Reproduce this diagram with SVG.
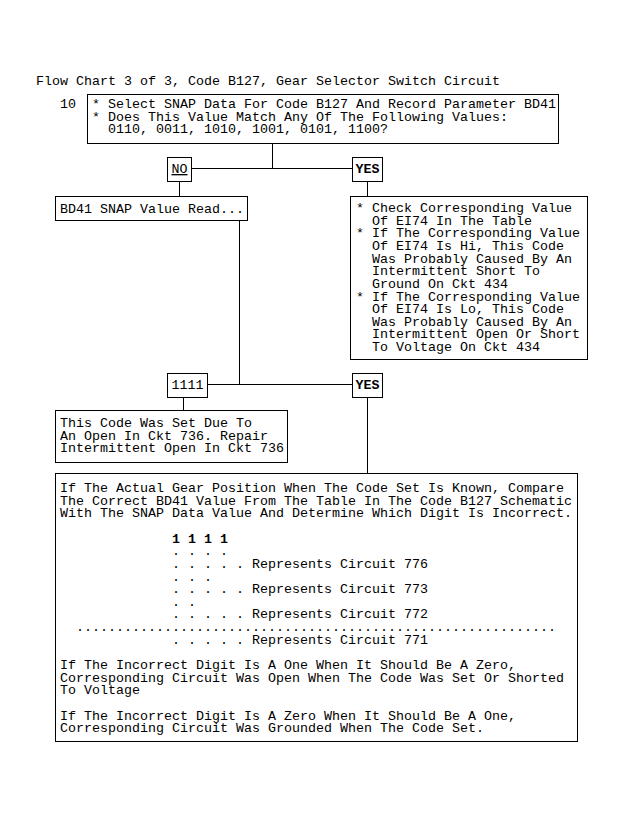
<svg xmlns="http://www.w3.org/2000/svg" width="622" height="817" viewBox="0 0 622 817">
<style>
text{font-family:"Liberation Mono","DejaVu Sans Mono",monospace;font-size:13.33px;fill:#000}
.b{font-weight:bold}
.box{fill:#fff;stroke:#000;stroke-width:1}
.ln{stroke:#000;stroke-width:1;fill:none}
</style>
<rect width="622" height="817" fill="#fff"/>
<text x="36" y="85">Flow Chart 3 of 3, Code B127, Gear Selector Switch Circuit</text>
<g id="connectors">
<path class="ln" d="M272.5 143.5V168.5M191.5 168.5H352.5M179.5 181.5V196.5M367.5 181.5V196.5M239.5 220.5V384.5M207.5 384.5H352.5M183.5 397.5V410.5M367.5 397.5V473.5"/>
</g>
<g id="n10">
<text x="60" y="108">10</text>
<rect class="box" x="87.5" y="94.5" width="471" height="49"/>
<text x="92" y="108">* Select SNAP Data For Code B127 And Record Parameter BD41</text>
<text x="92" y="121">* Does This Value Match Any Of The Following Values:</text>
<text x="108" y="133">0110, 0011, 1010, 1001, 0101, 1100?</text>
</g>
<g id="no1">
<rect class="box" x="167.5" y="157.5" width="24" height="24"/>
<text x="171.5" y="173" text-decoration="underline">NO</text>
</g>
<g id="yes1">
<rect class="box" x="352.5" y="157.5" width="30" height="24"/>
<text class="b" x="355.5" y="173">YES</text>
</g>
<g id="bd41">
<rect class="box" x="55.5" y="196.5" width="192" height="24"/>
<text x="60" y="213">BD41 SNAP Value Read...</text>
</g>
<g id="check">
<rect class="box" x="350.5" y="196.5" width="237" height="163"/>
<text x="356" y="212">* Check Corresponding Value</text>
<text x="372" y="224.6">Of EI74 In The Table</text>
<text x="356" y="237.3">* If The Corresponding Value</text>
<text x="372" y="249.9">Of EI74 Is Hi, This Code</text>
<text x="372" y="262.6">Was Probably Caused By An</text>
<text x="372" y="275.2">Intermittent Short To</text>
<text x="372" y="287.8">Ground On Ckt 434</text>
<text x="356" y="300.5">* If The Corresponding Value</text>
<text x="372" y="313.1">Of EI74 Is Lo, This Code</text>
<text x="372" y="325.8">Was Probably Caused By An</text>
<text x="372" y="338.4">Intermittent Open Or Short</text>
<text x="372" y="351">To Voltage On Ckt 434</text>
</g>
<g id="v1111">
<rect class="box" x="167.5" y="373.5" width="40" height="24"/>
<text x="171.5" y="389">1111</text>
</g>
<g id="yes2">
<rect class="box" x="352.5" y="373.5" width="30" height="24"/>
<text class="b" x="355.5" y="389">YES</text>
</g>
<g id="open736">
<rect class="box" x="55.5" y="410.5" width="232" height="52"/>
<text x="60" y="427">This Code Was Set Due To</text>
<text x="60" y="439.6">An Open In Ckt 736. Repair</text>
<text x="60" y="452.3">Intermittent Open In Ckt 736</text>
</g>
<g id="compare">
<rect class="box" x="55.5" y="473.5" width="522" height="268"/>
<text x="60" y="492">If The Actual Gear Position When The Code Set Is Known, Compare</text>
<text x="60" y="504.6">The Correct BD41 Value From The Table In The Code B127 Schematic</text>
<text x="60" y="517.3">With The SNAP Data Value And Determine Which Digit Is Incorrect.</text>
<text class="b" x="172" y="542.6">1 1 1 1</text>
<text x="172" y="555.2">. . . .</text>
<text x="172" y="567.8">. . . . . Represents Circuit 776</text>
<text x="172" y="580.5">. . .</text>
<text x="172" y="593.1">. . . . . Represents Circuit 773</text>
<text x="172" y="605.8">. .</text>
<text x="172" y="618.4">. . . . . Represents Circuit 772</text>
<text x="76" y="631">............................................................</text>
<text x="172" y="643.7">. . . . . Represents Circuit 771</text>
<text x="60" y="669">If The Incorrect Digit Is A One When It Should Be A Zero,</text>
<text x="60" y="681.6">Corresponding Circuit Was Open When The Code Was Set Or Shorted</text>
<text x="60" y="694.2">To Voltage</text>
<text x="60" y="719.5">If The Incorrect Digit Is A Zero When It Should Be A One,</text>
<text x="60" y="732.1">Corresponding Circuit Was Grounded When The Code Set.</text>
</g>
</svg>
